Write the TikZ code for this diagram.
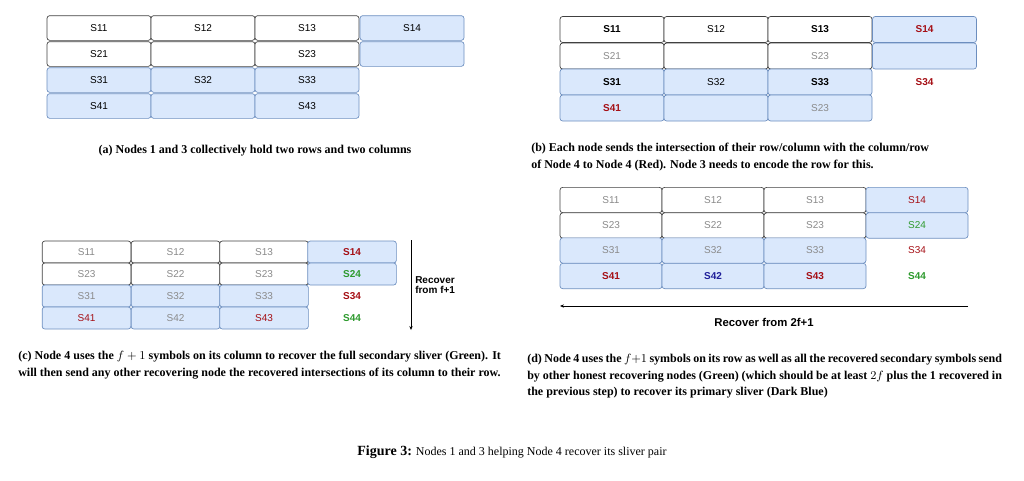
\documentclass[tikz,border=0pt]{standalone}
\usepackage{fontspec}
\setmainfont{Liberation Serif}
\newfontfamily\cellfont{Liberation Sans}
\usetikzlibrary{arrows.meta}
\definecolor{bfill}{HTML}{DAE8FC}
\definecolor{bdraw}{HTML}{6C8EBF}
\definecolor{myred}{HTML}{A50F15}
\definecolor{mygreen}{HTML}{2E9A2E}
\definecolor{mydblue}{HTML}{1F1F9A}
\definecolor{mygray}{HTML}{8A8A8A}
\tikzset{
 cell/.style={draw=black!75,rounded corners=2pt,line width=0.5pt,inner sep=0pt,font=\cellfont\fontsize{7.5}{8}\selectfont,anchor=center},
 wc/.style={cell,fill=white},
 bc/.style={cell,fill=bfill,draw=bdraw},
 nc/.style={inner sep=0pt,font=\cellfont\fontsize{7.5}{8}\selectfont},
 A/.style={minimum width=78pt,minimum height=18.5pt},
 B/.style={minimum width=78pt,minimum height=19.5pt},
 C/.style={minimum width=66.5pt,minimum height=16.5pt},
 D/.style={minimum width=76.5pt,minimum height=19pt},
 g/.style={text=mygray}, r/.style={text=myred,font=\cellfont\bfseries\fontsize{7.5}{8}\selectfont},
 rn/.style={text=myred}, gn/.style={text=mygreen},
 k/.style={font=\cellfont\bfseries\fontsize{7.5}{8}\selectfont},
 gb/.style={text=mygreen,font=\cellfont\bfseries\fontsize{7.5}{8}\selectfont},
 db/.style={text=mydblue,font=\cellfont\bfseries\fontsize{7.5}{8}\selectfont},
 captext/.style={align=justify,anchor=north west,inner sep=0pt,font=\bfseries\fontsize{9}{12.5}\selectfont},
}
\begin{document}
\begin{tikzpicture}[x=0.75pt,y=-0.75pt]
\useasboundingbox (0,0) rectangle (1024,480);
% (a)
\node[wc,A] (a11) at (99,28) {S11};
\node[wc,A] (a12) at (203,28) {S12};
\node[wc,A] (a13) at (307,28) {S13};
\node[bc,A] (a14) at (412,28) {S14};
\node[wc,A] (a21) at (99,54) {S21};
\node[wc,A] (a22) at (203,54) {};
\node[wc,A] (a23) at (307,54) {S23};
\node[bc,A] (a24) at (412,54) {};
\node[bc,A] (a31) at (99,80) {S31};
\node[bc,A] (a32) at (203,80) {S32};
\node[bc,A] (a33) at (307,80) {S33};
\node[bc,A] (a41) at (99,106) {S41};
\node[bc,A] (a42) at (203,106) {};
\node[bc,A] (a43) at (307,106) {S43};
\node[captext,anchor=north,align=center] (capa) at (255,145) {(a) Nodes 1 and 3 collectively hold two rows and two columns};
% (b)
\node[wc,B,k] (b11) at (612,29.5) {S11};
\node[wc,B] (b12) at (716,29.5) {S12};
\node[wc,B,k] (b13) at (820,29.5) {S13};
\node[bc,B,r] (b14) at (924.5,29.5) {S14};
\node[wc,B,g] (b21) at (612,56) {S21};
\node[wc,B] (b22) at (716,56) {};
\node[wc,B,g] (b23) at (820,56) {S23};
\node[bc,B] (b24) at (924.5,56) {};
\node[bc,B,k] (b31) at (612,82) {S31};
\node[bc,B] (b32) at (716,82) {S32};
\node[bc,B,k] (b33) at (820,82) {S33};
\node[nc,r] (b34) at (924.5,82) {S34};
\node[bc,B,r] (b41) at (612,108) {S41};
\node[bc,B] (b42) at (716,108) {};
\node[bc,B,g] (b43) at (820,108) {S23};
\node[captext,text width=356pt] (capb) at (531,143) {(b) Each node sends the intersection of their row/column with the column/row\\ of Node 4 to Node 4 (Red). Node 3 needs to encode the row for this.};
% (c)
\node[wc,C,g] (c11) at (86.5,252) {S11};
\node[wc,C,g] (c12) at (175.5,252) {S12};
\node[wc,C,g] (c13) at (264,252) {S13};
\node[bc,C,r] (c14) at (352,252) {S14};
\node[wc,C,g] (c21) at (86.5,274) {S23};
\node[wc,C,g] (c22) at (175.5,274) {S22};
\node[wc,C,g] (c23) at (264,274) {S23};
\node[bc,C,gb] (c24) at (352,274) {S24};
\node[bc,C,g] (c31) at (86.5,296) {S31};
\node[bc,C,g] (c32) at (175.5,296) {S32};
\node[bc,C,g] (c33) at (264,296) {S33};
\node[nc,r] (c34) at (352,296) {S34};
\node[bc,C,rn] (c41) at (86.5,318) {S41};
\node[bc,C,g] (c42) at (175.5,318) {S42};
\node[bc,C,rn] (c43) at (264,318) {S43};
\node[nc,gb] (c44) at (352,318) {S44};
\coordinate (ct) at (411,240);
\coordinate (cb) at (411,330);
\draw[-{Stealth[length=3pt,width=2.5pt]},line width=0.5pt] (ct) -- (cb);
\node[nc,k,align=left,anchor=west] (crec) at (415,285) {Recover\\from f+1};
\node[captext,text width=362pt] (capc) at (18,351) {(c) Node 4 uses the $f+1$ symbols on its column to recover the full secondary sliver (Green). It will then send any other recovering node the recovered intersections of its column to their row.};
% (d)
\node[wc,D,g] (d11) at (611,200) {S11};
\node[wc,D,g] (d12) at (713,200) {S12};
\node[wc,D,g] (d13) at (815,200) {S13};
\node[bc,D,rn] (d14) at (917,200) {S14};
\node[wc,D,g] (d21) at (611,225.5) {S23};
\node[wc,D,g] (d22) at (713,225.5) {S22};
\node[wc,D,g] (d23) at (815,225.5) {S23};
\node[bc,D,gn] (d24) at (917,225.5) {S24};
\node[bc,D,g] (d31) at (611,250.5) {S31};
\node[bc,D,g] (d32) at (713,250.5) {S32};
\node[bc,D,g] (d33) at (815,250.5) {S33};
\node[nc,rn] (d34) at (917,250.5) {S34};
\node[bc,D,r] (d41) at (611,276) {S41};
\node[bc,D,db] (d42) at (713,276) {S42};
\node[bc,D,r] (d43) at (815,276) {S43};
\node[nc,gb] (d44) at (917,276) {S44};
\coordinate (dr) at (968,306);
\coordinate (dl) at (560,306);
\draw[-{Stealth[length=3pt,width=2.5pt]},line width=0.5pt] (dr) -- (dl);
\node[nc,k,font=\cellfont\bfseries\fontsize{8.5}{10}\selectfont] (drec) at (764,322) {Recover from 2f+1};
\node[captext,text width=356pt] (capd) at (527,354) {(d) Node 4 uses the $f{+}1$ symbols on its row as well as all the recovered secondary symbols send by other honest recovering nodes (Green) (which should be at least $2f$ plus the 1 recovered in the previous step) to recover its primary sliver (Dark Blue)};
% figure caption
\node[inner sep=0pt,font=\fontsize{9}{10}\selectfont] (fig) at (512,452) {{\fontsize{10.5}{12}\selectfont\bfseries Figure 3:} Nodes 1 and 3 helping Node 4 recover its sliver pair};
\end{tikzpicture}
\end{document}
